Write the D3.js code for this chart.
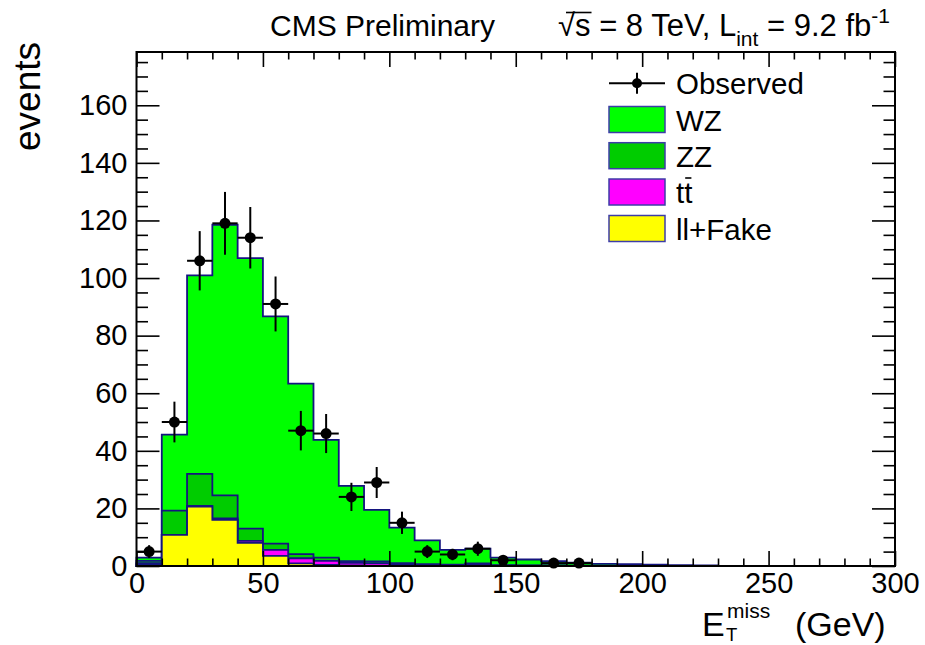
<!DOCTYPE html>
<html>
<head>
<meta charset="utf-8">
<script src="https://cdn.jsdelivr.net/npm/d3@7/dist/d3.min.js"></script>
<style>
body { margin: 0; background: #fff; }
svg text { font-family: "Liberation Sans", Arial, Helvetica, sans-serif; fill: #000; }
</style>
</head>
<body>
<svg id="chart" width="925" height="645"></svg>
<script>

/**
 * Missing transverse energy, stacked backgrounds vs observed counts (10 GeV bins)
 */

var binEdges = [0,10,20,30,40,50,60,70,80,90,100,110,120,130,140,150,
                160,170,180,190,200,210,220,230,240,250,260,270,280,290,300];

var observed = [5,50,106,119,114,91,47,46,24,29,15,5,4,6,2,0,1,1,0,0,0,0,0,0,0,0,0,0,0,0];

var wz    = [1.1,26.4,68.9,94.0,93.9,78.9,59.2,40.9,26.1,17.9,12.3,8.3,5.1,5.1,2.6,2.0,
             1.5,1.1,0.7,0.6,0.4,0.3,0.2,0,0,0,0,0,0,0];
var zz    = [0.8,8.4,11.1,8.0,4.3,2.2,1.4,1.1,0.6,0.6,0.4,0.3,0.3,0.2,0.2,0.15,
             0.1,0.1,0.05,0.05,0.05,0,0,0,0,0,0,0,0,0];
var ttbar = [0.4,0.0,0.3,0.5,0.7,2.1,1.8,1.4,0.9,0.9,0.5,0.3,0.2,0.6,0.1,0.1,
             0.1,0,0,0,0,0,0,0,0,0,0,0,0,0];
var fake  = [0.6,10.8,20.6,16.0,8.0,3.5,0.9,0.4,0.2,0.1,0.1,0,0,0.1,0,0,
             0,0,0,0,0,0,0,0,0,0,0,0,0,0];

var xTicks = [0,50,100,150,200,250,300];
var yTicks = [0,20,40,60,80,100,120,140,160];

var legendNames = ["Observed","WZ","ZZ","tt","ll+Fake"];

var frame = {left: 136.5, right: 895, top: 52, bottom: 566};
var lineCol = "#14147f";

var svg = d3.select("#chart");

var x = d3.scaleLinear()
        .domain([binEdges[0], binEdges[binEdges.length-1]])
        .range([frame.left, frame.right]);
var y = d3.scaleLinear()
        .domain([0, 1.5 * d3.max(observed)])   /// headroom above the peak
        .range([frame.bottom, frame.top]);

/// cumulative stack: fake at the bottom, WZ on top
var cFake = fake.slice();
var cTT   = cFake.map((v,i) => v + ttbar[i]);
var cZZ   = cTT.map((v,i) => v + zz[i]);
var cWZ   = cZZ.map((v,i) => v + wz[i]);

var layers = [
    {vals: cWZ,   fill: "#00ff00"},
    {vals: cZZ,   fill: "#00cc00"},
    {vals: cTT,   fill: "#ff00ff"},
    {vals: cFake, fill: "#ffff00"}
];

function steps(vals){
    var pts = [[binEdges[0], 0]];
    vals.forEach(function(v,i){
        pts.push([binEdges[i], v]);
        pts.push([binEdges[i+1], v]);
    });
    pts.push([binEdges[binEdges.length-1], 0]);
    return pts;
}

var stepLine = d3.line()
        .x(d => x(d[0]))
        .y(d => y(d[1]));

svg.append("g").selectAll("path")
    .data(layers)
    .enter()
    .append("path")
    .attr("d", d => stepLine(steps(d.vals)) + "Z")
    .attr("fill", d => d.fill)
    .attr("stroke", lineCol)
    .attr("stroke-width", 1.8)
    .attr("stroke-linejoin", "miter");

/// data points with sqrt(N) errors and bin-width bars
var pts = observed.map((n,i) => ({n: n, lo: binEdges[i], hi: binEdges[i+1]}))
        .filter(d => d.n > 0);

var dat = svg.append("g");
dat.selectAll("line.ex")
    .data(pts).enter().append("line")
    .attr("x1", d => x(d.lo)).attr("x2", d => x(d.hi))
    .attr("y1", d => y(d.n)).attr("y2", d => y(d.n))
    .attr("stroke", "#000").attr("stroke-width", 2);
dat.selectAll("line.ey")
    .data(pts).enter().append("line")
    .attr("x1", d => x((d.lo+d.hi)/2)).attr("x2", d => x((d.lo+d.hi)/2))
    .attr("y1", d => y(d.n - Math.sqrt(d.n))).attr("y2", d => y(d.n + Math.sqrt(d.n)))
    .attr("stroke", "#000").attr("stroke-width", 2);
dat.selectAll("circle")
    .data(pts).enter().append("circle")
    .attr("cx", d => x((d.lo+d.hi)/2))
    .attr("cy", d => y(d.n))
    .attr("r", 5.5)
    .attr("fill", "#000");

/// axes, ticks on all four sides pointing inward
var xMinor = binEdges.filter(v => xTicks.indexOf(v) < 0);
var yMinor = d3.range(5, y.domain()[1], 5).filter(v => yTicks.indexOf(v) < 0);

function styleAxis(g){
    g.select(".domain").remove();
    g.selectAll(".tick line").attr("stroke", "#000").attr("stroke-width", 1.6);
    g.selectAll(".tick text").attr("font-size", 29).attr("fill", "#000")
        .style("font-family", "'Liberation Sans', Arial, sans-serif");
}

svg.append("g").attr("transform", "translate(0," + frame.bottom + ")")
    .call(d3.axisBottom(x).tickValues(xTicks).tickSizeInner(-15).tickSizeOuter(0).tickPadding(6))
    .call(styleAxis);
svg.append("g").attr("transform", "translate(0," + frame.bottom + ")")
    .call(d3.axisBottom(x).tickValues(xMinor).tickSize(-7.5).tickFormat(""))
    .call(styleAxis);
svg.append("g").attr("transform", "translate(0," + frame.top + ")")
    .call(d3.axisTop(x).tickValues(xTicks).tickSize(-15).tickFormat(""))
    .call(styleAxis);
svg.append("g").attr("transform", "translate(0," + frame.top + ")")
    .call(d3.axisTop(x).tickValues(xMinor).tickSize(-7.5).tickFormat(""))
    .call(styleAxis);

svg.append("g").attr("transform", "translate(" + frame.left + ",0)")
    .call(d3.axisLeft(y).tickValues(yTicks).tickSizeInner(-23).tickSizeOuter(0).tickPadding(9))
    .call(styleAxis);
svg.append("g").attr("transform", "translate(" + frame.left + ",0)")
    .call(d3.axisLeft(y).tickValues(yMinor).tickSize(-11.5).tickFormat(""))
    .call(styleAxis);
svg.append("g").attr("transform", "translate(" + frame.right + ",0)")
    .call(d3.axisRight(y).tickValues(yTicks).tickSize(-23).tickFormat(""))
    .call(styleAxis);
svg.append("g").attr("transform", "translate(" + frame.right + ",0)")
    .call(d3.axisRight(y).tickValues(yMinor).tickSize(-11.5).tickFormat(""))
    .call(styleAxis);

svg.append("rect")
    .attr("x", frame.left).attr("y", frame.top)
    .attr("width", frame.right - frame.left)
    .attr("height", frame.bottom - frame.top)
    .attr("fill", "none").attr("stroke", "#000").attr("stroke-width", 2);

/// axis titles
svg.append("text")
    .attr("transform", "translate(40,42) rotate(-90)")
    .attr("text-anchor", "end")
    .attr("font-size", 37)
    .text("events");

/// E_T^miss (GeV): sub- and superscript stacked after the E
var xt = svg.append("text").attr("x", 702).attr("y", 636).attr("font-size", 34);
xt.append("tspan").text("E");
xt.append("tspan").attr("x", 726).attr("y", 640.5).attr("font-size", 18.5).text("T");
xt.append("tspan").attr("x", 727).attr("y", 618).attr("font-size", 21).text("miss");
xt.append("tspan").attr("x", 795).attr("y", 636).text("(GeV)");

/// header
svg.append("text").attr("x", 270).attr("y", 36).attr("font-size", 30).text("CMS Preliminary");

var hdr = svg.append("text").attr("x", 558).attr("y", 36).attr("font-size", 31);
hdr.append("tspan").text("\u221As = 8 TeV, L");
hdr.append("tspan").attr("font-size", 21).attr("dy", 10).text("int");
hdr.append("tspan").attr("dy", -10).text(" = 9.2 fb");
hdr.append("tspan").attr("font-size", 21).attr("dy", -13).text("-1");
/// bar over the s of the root sign
var hn = hdr.node();
var s1 = hn.getEndPositionOfChar(1).x;
svg.append("line")
    .attr("x1", hn.getStartPositionOfChar(0).x + 8).attr("x2", s1 + 1)
    .attr("y1", 12.5).attr("y2", 12.5)
    .attr("stroke", "#000").attr("stroke-width", 1.6);

/// legend
var leg = svg.append("g");
var rowY = [83.3, 119.5, 155.7, 192, 228.5];
var legFill = [null, "#00ff00", "#00cc00", "#ff00ff", "#ffff00"];
var bx0 = 609, bx1 = 665;

leg.append("line").attr("x1", bx0).attr("x2", bx1).attr("y1", rowY[0]).attr("y2", rowY[0])
    .attr("stroke", "#000").attr("stroke-width", 2);
leg.append("line").attr("x1", (bx0+bx1)/2).attr("x2", (bx0+bx1)/2)
    .attr("y1", rowY[0]-10.5).attr("y2", rowY[0]+10.5)
    .attr("stroke", "#000").attr("stroke-width", 2);
leg.append("circle").attr("cx", (bx0+bx1)/2).attr("cy", rowY[0]).attr("r", 5)
    .attr("fill", "#000");

leg.selectAll("rect")
    .data(legFill.slice(1))
    .enter().append("rect")
    .attr("x", bx0).attr("y", (d,i) => rowY[i+1] - 13)
    .attr("width", bx1 - bx0).attr("height", 26)
    .attr("fill", d => d)
    .attr("stroke", "#3c3ca8").attr("stroke-width", 1.5);

leg.selectAll("text")
    .data(legendNames)
    .enter().append("text")
    .attr("x", 676).attr("y", (d,i) => rowY[i] + 11)
    .attr("font-size", 29.5)
    .text(d => d);

/// bar over the second t
var ttn = leg.selectAll("text").nodes()[3];
leg.append("line")
    .attr("x1", ttn.getStartPositionOfChar(1).x + 1)
    .attr("x2", ttn.getEndPositionOfChar(1).x - 1)
    .attr("y1", rowY[3] - 14).attr("y2", rowY[3] - 14)
    .attr("stroke", "#000").attr("stroke-width", 1.6);

</script>
</body>
</html>
